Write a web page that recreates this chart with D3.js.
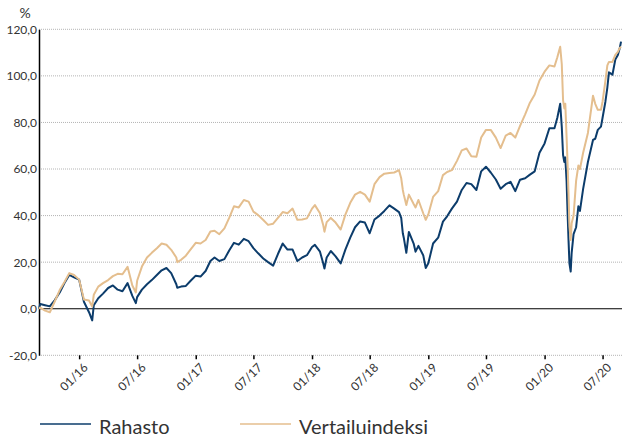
<!DOCTYPE html>
<html>
<head>
<meta charset="utf-8">
<script src="https://cdn.jsdelivr.net/npm/d3@7"></script>
<style>
  body { margin: 0; background: #fff; }
  text { font-family: Lato, "Liberation Sans", sans-serif; fill: #333; }
</style>
</head>
<body>
<div id="chart"></div>
<script>
// data (cumulative return, %)
const DATES = [
  "2015-08-28", "2015-09-01", "2015-09-16", "2015-10-01", "2015-10-16", "2015-11-01", "2015-11-16", "2015-12-01", "2015-12-16",
  "2016-01-01", "2016-01-16", "2016-02-01", "2016-02-11", "2016-02-16", "2016-03-01", "2016-03-16", "2016-04-01", "2016-04-16",
  "2016-05-01", "2016-05-16", "2016-06-01", "2016-06-16", "2016-06-27", "2016-07-01", "2016-07-16", "2016-08-01", "2016-08-16",
  "2016-09-01", "2016-09-16", "2016-10-01", "2016-10-16", "2016-11-01", "2016-11-04", "2016-11-16", "2016-12-01", "2016-12-16",
  "2017-01-01", "2017-01-16", "2017-02-01", "2017-02-16", "2017-03-01", "2017-03-16", "2017-04-01", "2017-04-16", "2017-05-01",
  "2017-05-16", "2017-06-01", "2017-06-16", "2017-07-01", "2017-07-16", "2017-08-01", "2017-08-16", "2017-09-01", "2017-09-16",
  "2017-10-01", "2017-10-16", "2017-11-01", "2017-11-16", "2017-12-01", "2017-12-16", "2018-01-01", "2018-01-10", "2018-01-26",
  "2018-02-05", "2018-02-09", "2018-02-16", "2018-03-01", "2018-03-16", "2018-04-01", "2018-04-16", "2018-05-01", "2018-05-16",
  "2018-06-01", "2018-06-16", "2018-07-01", "2018-07-16", "2018-08-01", "2018-08-16", "2018-09-01", "2018-09-16", "2018-10-01",
  "2018-10-08", "2018-10-13", "2018-10-16", "2018-10-24", "2018-11-01", "2018-11-16", "2018-11-22", "2018-12-01", "2018-12-16",
  "2018-12-24", "2019-01-01", "2019-01-16", "2019-02-01", "2019-02-16", "2019-03-01", "2019-03-16", "2019-04-01", "2019-04-16",
  "2019-05-01", "2019-05-16", "2019-06-01", "2019-06-16", "2019-07-01", "2019-07-16", "2019-08-01", "2019-08-16", "2019-09-01",
  "2019-09-16", "2019-10-01", "2019-10-16", "2019-11-01", "2019-11-16", "2019-12-01", "2019-12-16", "2020-01-01", "2020-01-16",
  "2020-02-01", "2020-02-10", "2020-02-19", "2020-02-24", "2020-02-28", "2020-03-03", "2020-03-06", "2020-03-10", "2020-03-13",
  "2020-03-16", "2020-03-19", "2020-03-23", "2020-03-26", "2020-04-01", "2020-04-09", "2020-04-16", "2020-04-21", "2020-05-01",
  "2020-05-16", "2020-06-01", "2020-06-08", "2020-06-16", "2020-06-26", "2020-07-01", "2020-07-10", "2020-07-16", "2020-07-21",
  "2020-08-01", "2020-08-10", "2020-08-18", "2020-08-24", "2020-08-28"
];

const RAHASTO = [
  0, 2.0, 1.5, 1.0, 3.6, 7.0, 11.0, 14.5, 13.5,
  12.5, 3.0, -1.5, -5.0, 1.5, 4.5, 6.5, 8.9, 10.0,
  8.2, 7.5, 11.0, 5.5, 2.4, 5.0, 8.2, 10.5, 12.3,
  14.5, 16.5, 17.5, 15.3, 10.5, 9.0, 9.5, 9.8, 12.0,
  14.2, 13.8, 16.2, 20.5, 22.0, 20.5, 21.3, 25.0, 28.3,
  27.5, 30.0, 29.0, 26.0, 23.8, 21.6, 20.0, 18.5, 23.5,
  28.0, 25.4, 25.4, 20.5, 22.0, 23.0, 26.5, 27.4, 24.5,
  19.5, 17.3, 22.0, 24.8, 22.5, 19.5, 25.5, 30.5, 35.0,
  37.5, 37.0, 32.4, 38.3, 40.0, 42.0, 44.4, 43.0, 41.5,
  39.0, 32.4, 30.5, 24.0, 33.0, 28.0, 24.5, 27.0, 23.0,
  17.5, 19.5, 28.0, 30.5, 37.4, 39.7, 43.0, 46.0, 51.0,
  54.0, 53.5, 51.0, 59.0, 61.0, 58.5, 55.5, 51.5, 53.5,
  54.5, 50.5, 55.4, 56.0, 57.6, 59.0, 67.0, 71.0, 77.5,
  77.5, 82.0, 88.0, 78.0, 66.0, 63.0, 65.0, 55.0, 42.0,
  30.0, 19.5, 16.0, 24.0, 32.0, 35.0, 44.0, 42.0, 51.5,
  63.0, 72.5, 73.0, 76.8, 78.2, 82.0, 89.0, 95.0, 101.5,
  100.5, 107.0, 109.0, 112.0, 114.7
];

const VERTAILU = [
  0, 0.5, -0.8, -1.5, 3.0, 8.0, 11.5, 15.3, 14.5,
  12.5, 4.0, 3.5, 1.0, 6.0, 9.5, 11.0, 12.3, 14.0,
  15.0, 14.8, 18.0, 10.0, 7.0, 12.0, 18.1, 22.0, 24.0,
  26.0, 28.0, 27.5, 25.3, 22.0, 20.0, 21.0, 22.8, 25.5,
  28.3, 28.0, 29.5, 33.2, 33.5, 32.0, 34.5, 39.0, 44.0,
  43.5, 46.7, 46.0, 41.7, 40.2, 38.1, 36.0, 36.5, 39.0,
  41.5, 41.0, 43.0, 38.2, 38.3, 38.8, 43.0, 44.5, 41.0,
  36.0, 33.1, 37.2, 39.0, 37.0, 34.0, 40.5, 45.5, 49.0,
  50.2, 49.0, 46.0, 53.5, 56.5, 58.0, 58.3, 58.5, 59.5,
  56.0, 51.0, 49.0, 44.5, 49.0, 45.0, 43.5, 46.7, 41.0,
  38.2, 40.5, 48.0, 50.5, 57.4, 58.7, 59.5, 63.5, 68.0,
  68.8, 65.5, 65.3, 73.5, 76.8, 76.8, 73.5, 69.0, 74.3,
  75.5, 73.5, 78.5, 83.5, 88.5, 92.0, 98.0, 101.8, 104.5,
  104.0, 108.0, 112.5, 105.0, 89.6, 86.0, 88.0, 74.0, 63.0,
  50.0, 35.5, 29.5, 36.7, 40.0, 55.0, 61.5, 60.0, 67.0,
  75.5, 91.5, 88.0, 85.4, 85.4, 89.0, 98.0, 104.5, 106.0,
  106.0, 109.0, 110.3, 112.0, 112.5
];

const SERIES_NAMES = ["Rahasto", "Vertailuindeksi"];
const COLORS = ["#0c3c6b", "#e4be8e"];
const Y_TICKS = [-20, 0, 20, 40, 60, 80, 100, 120];
const X_TICKS = ["2016-01-01", "2016-07-01", "2017-01-01", "2017-07-01", "2018-01-01",
                 "2018-07-01", "2019-01-01", "2019-07-01", "2020-01-01", "2020-07-01"];

// frame
const FRAME_WIDTH = 625;
const FRAME_HEIGHT = 439;
const MARGINS = {left: 39, right: 3, top: 29.3, bottom: 83.7};

const parse = d3.timeParse("%Y-%m-%d");

const svg = d3.select("#chart")
  .append("svg")
    .attr("width", FRAME_WIDTH)
    .attr("height", FRAME_HEIGHT);

// scales
const x = d3.scaleTime()
  .domain([parse("2015-08-28"), parse("2020-08-31")])
  .range([MARGINS.left, FRAME_WIDTH - MARGINS.right]);

const y = d3.scaleLinear()
  .domain([-20, 120])
  .range([FRAME_HEIGHT - MARGINS.bottom, MARGINS.top]);

// dotted gridlines
svg.append("g")
  .selectAll("line")
  .data(Y_TICKS.filter(d => d !== 0))
  .enter()
  .append("line")
    .attr("x1", MARGINS.left)
    .attr("x2", FRAME_WIDTH - MARGINS.right)
    .attr("y1", d => y(d))
    .attr("y2", d => y(d))
    .attr("stroke", "#b4b4b4")
    .attr("stroke-width", 1)
    .attr("stroke-dasharray", "1,1");

// zero line
svg.append("line")
  .attr("x1", MARGINS.left)
  .attr("x2", FRAME_WIDTH - MARGINS.right)
  .attr("y1", y(0))
  .attr("y2", y(0))
  .attr("stroke", "#000")
  .attr("stroke-width", 1.2);

// y axis
const yFormat = d => d3.format(".1f")(d).replace(".", ",").replace("\u2212", "-");
const yAxis = svg.append("g")
  .attr("transform", `translate(${MARGINS.left},0)`)
  .call(d3.axisLeft(y).tickValues(Y_TICKS).tickSize(0).tickPadding(2).tickFormat(yFormat));
yAxis.select(".domain").attr("stroke", "#000").attr("stroke-width", 1.5);
yAxis.selectAll("text")
  .style("font-size", "12px")
  .style("font-family", "Lato, 'Liberation Sans', sans-serif")
  .attr("fill", "#3a3a3a");

svg.append("text")
  .attr("x", 25)
  .attr("y", 18)
  .attr("text-anchor", "middle")
  .style("font-size", "14px")
  .text("%");

// x axis with rotated labels
const xAxis = svg.append("g")
  .attr("transform", `translate(0,${y(-20)})`)
  .call(d3.axisBottom(x).tickValues(X_TICKS.map(parse)).tickSize(4).tickFormat(d3.timeFormat("%m/%y")));
xAxis.select(".domain").remove();
xAxis.selectAll("line").attr("stroke", "#000").attr("stroke-width", 1.5);
xAxis.selectAll("text")
  .attr("x", 0)
  .attr("y", 0)
  .attr("dy", 0)
  .attr("transform", "translate(9,13) rotate(-45)")
  .style("text-anchor", "end")
  .style("font-size", "12px")
  .style("font-family", "Lato, 'Liberation Sans', sans-serif")
  .attr("fill", "#3a3a3a");

// lines
const line = d3.line()
  .x(d => x(d.date))
  .y(d => y(d.value));

[RAHASTO, VERTAILU].forEach((vals, i) => {
  const rows = DATES.map((dt, j) => ({date: parse(dt), value: vals[j]}));
  svg.append("path")
    .datum(rows)
    .attr("fill", "none")
    .attr("stroke", COLORS[i])
    .attr("stroke-width", 2)
    .attr("stroke-linejoin", "round")
    .attr("d", line);
});

// legend
const LEGEND_X = [40, 240];
SERIES_NAMES.forEach((name, i) => {
  svg.append("line")
    .attr("x1", LEGEND_X[i])
    .attr("x2", LEGEND_X[i] + 51)
    .attr("y1", 424)
    .attr("y2", 424)
    .attr("stroke", COLORS[i])
    .attr("stroke-width", 1.5);
  svg.append("text")
    .attr("x", LEGEND_X[i] + 59)
    .attr("y", 434)
    .style("font-size", "20px")
    .attr("fill", "#2a2a2a")
    .text(name);
});
</script>
</body>
</html>
